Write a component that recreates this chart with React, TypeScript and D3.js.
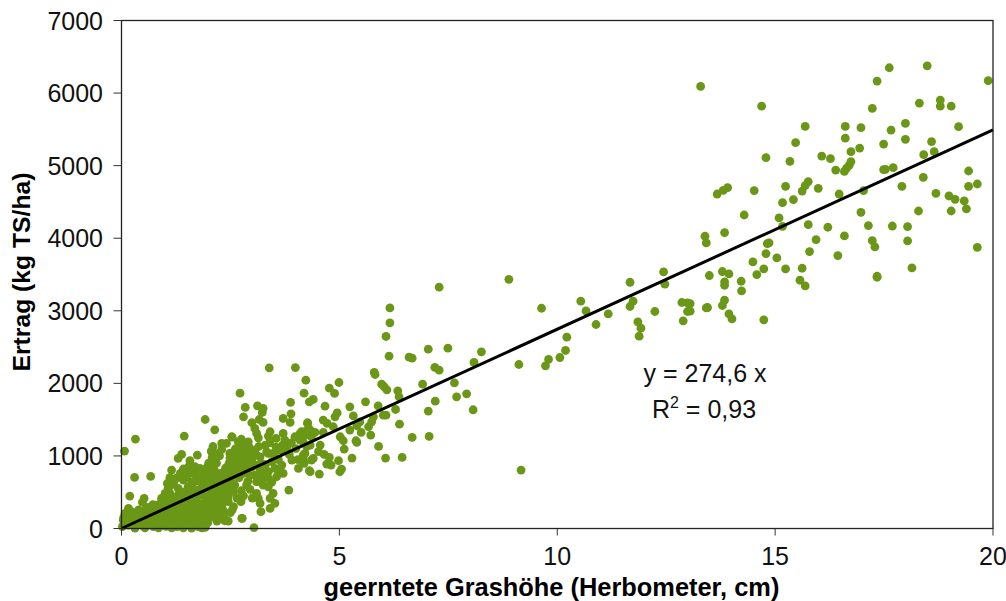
import React from "react";
import * as d3 from "d3";

const xTicks = [0, 5, 10, 15, 20];
const yTicks = [0, 1000, 2000, 3000, 4000, 5000, 6000, 7000];
const xTitle = "geerntete Grashöhe (Herbometer, cm)";
const yTitle = "Ertrag (kg TS/ha)";
const slope = 274.6;

// [Grashöhe cm, Ertrag kg TS/ha]
const highPoints: number[][] = [
  [13.29,6092],[14.69,5820],[15.69,5541],[15.47,5316],[14.79,5110],[15.34,5059],[16.07,5132],[16.27,5096],[16.61,5541],[16.61,5380],
  [16.97,5523],[16.74,5192],[16.94,5242],[16.74,5055],[16.70,5004],[16.64,4967],[16.59,4921],[16.39,4939],[17.23,5789],[17.34,6165],
  [17.62,6349],[18.49,6376],[19.89,6170],[18.31,5862],[18.79,5903],[18.79,5820],[19.04,5820],[17.99,5582],[17.66,5490],[17.99,5362],
  [19.21,5537],[17.49,5297],[18.59,5331],[18.65,5193],[18.41,5151],[17.49,4945],[17.53,4949],[17.71,4972],[19.44,4926],[18.40,4839],
  [19.44,4715],[19.64,4747],[17.91,4715],[18.69,4619],[18.99,4582],[19.13,4536],[19.34,4513],[17.03,4656],[16.47,4609],[15.99,4688],
  [15.76,4780],[15.69,4725],[15.62,4650],[15.24,4715],[14.52,4656],[13.91,4697],[13.81,4660],[13.67,4609],
  [15.09,4279],[15.17,4490],[15.42,4532],[15.17,4164],[14.29,4320],[13.39,4027],[13.42,3935],[13.84,4078],[15.76,4187],[16.21,4151],
  [16.97,4357],[17.14,4174],[17.69,4168],[18.04,4160],[18.29,4375],[19.04,4375],[19.39,4403],[16.59,4031],[15.94,3981],[17.23,3967],
  [17.29,3880],[18.04,3962],[19.64,3875],[15.79,3816],[16.44,3761],[14.86,3935],[14.82,3926],[14.79,3789],[15.04,3728],[14.49,3673],
  [14.74,3577],[14.58,3499],[15.24,3577],[15.62,3586],[15.57,3421],[15.69,3343],[17.34,3476],[17.34,3462],[18.14,3590],[13.49,3486],
  [13.79,3541],[13.94,3508],[14.22,3407],[13.84,3398],[13.84,3352],[14.23,3274],[13.84,3146],[13.79,3073],[13.45,3045],[13.42,3040],
  [13.05,3100],[13.05,2994],[13.94,2957],[14.01,2888],[14.74,2875],
];

const midPoints: number[][] = [
  [7.29,3325],[8.89,3434],[9.64,3035],[10.54,3132],[10.66,2998],[11.17,2957],[10.89,2811],[11.67,3393],[12.44,3536],[12.47,3366],
  [11.74,3132],[11.67,3059],[12.86,3114],[12.99,3109],[12.99,2990],[12.89,2861],[12.24,2990],[11.85,2847],[11.92,2760],[11.88,2650],
  [10.22,2636],[10.19,2453],[10.06,2356],[9.80,2329],[9.73,2241],[9.12,2260],[8.26,2434],[8.09,2288],[7.49,2485],[7.04,2471],
  [6.60,2361],[6.67,2347],[7.19,2219],[7.29,2182],[6.91,1989],[7.64,2007],[7.92,1856],[7.69,1815],[7.20,1755],[7.04,1618],
  [8.07,1636],[6.38,1438],[6.67,1256],[7.06,1269],[9.17,805],
  [6.16,3040],[6.16,2834],[6.07,2646],[6.14,2375],[5.80,2150],[5.82,2122],[5.97,1989],[6.03,1953],[6.09,1911],[6.34,1897],[6.37,1815],
  [4.23,2044],[4.19,1865],[4.77,1934],[4.99,2012],[4.89,1861],[4.40,1778],[4.31,1746],[4.67,1686],[5.24,1677],[5.60,1746],[5.89,1691],
  [6.29,1640],[6.01,1562],[6.07,1562],[4.95,1594],[4.90,1539],[5.32,1553],[4.63,1494],[4.72,1448],[4.27,1448],[5.78,1539],[5.74,1470],
  [5.67,1402],[5.47,1470],[5.40,1416],[5.24,1356],[4.86,1402],[4.63,1324],[4.44,1324],[4.33,1356],[4.21,1333],[4.10,1310],[5.50,1324],
  [5.72,1287],[5.02,1264],[5.09,1209],[5.38,1209],[5.40,1186],[5.11,1094],[5.90,1131],[5.29,970],[6.06,970],[6.44,980],[4.98,934],
  [4.56,1150],[4.33,1150],[4.17,1195],[4.52,1058],[4.65,1021],[4.77,980],[4.40,966],[4.17,1012],[4.14,942],[4.71,888],[4.81,874],
  [4.31,796],[4.19,897],[5.01,782],[5.05,819],[4.54,750],
];

const clusterPoints: number[][] = [
  [3.39,2214],[3.99,2218],[2.72,1865],[3.88,1737],[2.84,1668],[3.12,1691],[3.25,1654],[3.23,1599],[2.80,1539],[3.89,1580],[3.71,1516],
  [3.87,1461],[2.99,1457],[3.06,1379],[3.10,1310],[3.14,1250],[3.16,1502],[3.25,1461],[2.14,1360],[1.92,1502],[4.27,1457],[3.41,1333],
  [3.37,1273],[3.55,1241],[3.71,1310],[3.75,1218],[3.81,1149],[3.98,1264],[4.13,1333],[4.29,1379],[4.21,1287],[4.36,1264],[4.10,1218],
  [2.54,1259],[2.30,1172],[2.41,1172],[2.06,1067],[2.21,1025],[2.68,1195],[2.91,1195],[2.60,1080],[2.76,1126],[2.91,1057],[3.06,1080],
  [2.49,1034],[2.64,988],[2.80,1011],[2.95,988],[3.10,1011],[3.33,1057],[3.48,1034],[3.64,1080],[3.79,1080],
  [2.09,920],[2.76,988],[2.68,897],[2.49,966],[2.83,897],[2.99,943],[2.57,828],[3.18,988],[3.37,1034],[3.52,988],[3.68,874],[3.71,759],
  [3.56,713],[3.37,782],[3.37,690],[3.52,828],[3.91,943],[4.06,828],[4.17,966],[4.33,782],[4.21,1034],[4.36,943],[3.25,598],[3.37,575],
  [3.10,644],[3.06,736],[2.87,598],[3.25,759],[3.18,805],[3.84,530],[3.48,484],[3.41,415],[3.10,484],[3.14,415],[3.18,346],[3.20,231],
  [3.52,346],[3.41,277],[2.77,140],[2.19,103],[2.37,107],[2.45,103],[3.04,11],[2.74,369],[2.57,300],[2.57,507],[2.45,530],[2.60,598],
  [2.38,644],[2.07,759],[1.99,713],[2.15,690],[2.26,759],[2.07,621],[2.22,621],[2.30,553],[2.18,530],[2.03,530],[1.92,575],[2.03,438],
  [2.15,438],[2.26,415],[2.38,392],[1.92,438],[2.15,346],[2.30,323],[2.03,323],[1.92,323],[2.18,254],[1.99,231],[1.92,16],
  [2.02,150],[2.10,200],[2.12,500],[2.20,400],[2.22,580],[2.28,470],[2.30,660],[2.33,250],[2.35,720],[2.36,520],[2.40,840],[2.42,600],
  [2.45,440],[2.47,900],[2.50,680],[2.52,760],[2.55,1000],[2.56,620],[2.58,900],[2.62,1100],[2.65,1040],[2.66,780],[2.70,950],[2.72,1040],
  [2.74,850],[2.78,1080],[2.80,950],[2.82,1000],[2.85,1060],[2.88,840],[2.90,960],[2.93,1120],[2.97,1020],[2.85,1180],[2.75,1230],[3.00,850],
  [3.20,900],[3.30,1150],[3.45,920],[3.60,950],[3.70,1150],[3.85,1020],[4.00,1100],[4.05,950],[4.25,1130],[3.15,1130],[3.40,1180],[3.55,1120],
  [3.90,1180],[3.30,880],[3.05,880],[3.45,640],[3.60,800],[3.20,680],[2.95,730],[2.80,760],[2.70,700],[2.90,650],[2.75,520],[2.95,540],
  [3.00,420],[2.80,450],[2.65,420],[2.50,220],[2.35,180],[2.20,170],[2.30,1090],[2.10,1130],
];

const lowPoints: number[][] = [
  [0.32,1232],[0.07,1067],[1.44,1273],[0.30,704],[0.67,718],[0.19,447],[0.52,415],[0.48,360],[1.30,966],[1.38,1021],[1.74,1012],[1.57,934],
  [1.15,805],[1.11,700],[1.23,681],[1.53,782],[1.69,851],[1.80,828],[1.65,759],[1.42,668],[1.30,553],[1.53,576],[1.69,645],[1.84,622],
  [1.07,553],[1.00,484],[0.92,415],[1.11,484],[2.07,1058],[2.22,1035],[2.38,814],[2.53,1264],[2.61,989],[2.49,1035],[2.72,1150],[2.53,897],
  [0.16,278],[0.08,209],[0.23,232],[0.39,255],[0.54,255],[0.69,278],[0.81,323],[0.92,369],[1.07,415],[1.30,461],[1.46,507],[1.61,553],
  [1.76,530],[1.92,599],[2.03,668],[2.15,645],[0.02,25],[0.04,117],[0.16,140],[0.31,117],[0.46,163],[0.62,186],[0.77,209],[0.92,255],
  [1.07,300],[1.23,346],[1.38,369],[1.53,415],[1.69,461],[1.84,507],[0.16,48],[0.31,25],[0.43,71],[0.58,94],[0.73,25],[0.81,117],[0.96,48],
  [1.00,163],[1.15,117],[1.19,209],[1.34,255],[1.38,25],[1.46,117],[1.50,255],[1.61,5],[1.65,163],[1.76,25],[1.80,255],[1.88,94],[1.92,25],
  [1.95,323],[2.07,255],[2.15,369],[2.30,323],[2.45,369],[2.54,255],[2.74,379],[2.76,140],[1.69,346],[1.38,186],[1.57,94],[1.27,25],
  [1.15,10],[0.85,10],[0.54,10],[0.31,5],[1.42,10],[1.84,8],[0.92,140],[1.07,210],[1.27,240],[1.27,100],[1.10,60],[0.65,60],[0.50,110],[0.36,70],[0.08,60],
  [0.05,150],[0.12,90],[0.20,170],[0.27,60],[0.28,190],[0.35,150],[0.42,200],[0.48,40],[0.50,230],[0.56,140],[0.60,290],[0.66,110],[0.70,200],
  [0.72,330],[0.78,70],[0.84,240],[0.88,160],[0.90,300],[0.95,90],[0.98,350],[1.02,30],[1.04,260],[1.06,130],[1.10,380],[1.14,180],[1.16,280],
  [1.20,60],[1.22,420],[1.25,150],[1.28,320],[1.32,80],[1.33,400],[1.36,220],[1.40,300],[1.42,480],[1.44,140],[1.48,360],[1.50,60],[1.52,210],
  [1.55,460],[1.58,300],[1.60,150],[1.62,390],[1.64,40],[1.66,240],[1.68,520],[1.70,110],[1.72,410],[1.74,300],[1.78,180],[1.80,460],[1.82,60],
  [1.85,340],[1.86,200],[1.88,560],[1.90,130],[1.94,400],[1.96,260],[1.98,80],[1.05,620],[1.12,590],[1.20,640],[1.28,700],[1.35,760],[1.42,820],
  [1.50,700],[1.55,860],[1.62,640],[1.72,720],[1.78,660],[1.86,780],[1.90,700],[1.96,840],[2.00,900],[2.02,760],[2.08,980],[2.12,830],[2.18,900],[2.25,1000],
];

const points = [...lowPoints, ...clusterPoints, ...midPoints, ...highPoints];

const FONT = "'Liberation Sans', Arial, sans-serif";
const TEXT = "#111";
const GREEN = "#6b9717";

export default function App() {
  const x = d3.scaleLinear().domain([0, 20]).range([121.5, 993]);
  const y = d3.scaleLinear().domain([0, 7000]).range([528.5, 20.5]);
  const trend = d3.line<number>().x((d) => x(d)).y((d) => y(d * slope));
  return (
    <svg
      width={1006}
      height={601}
      style={{ position: "absolute", left: 0, top: 0, display: "block", background: "#fff" }}
      fontFamily={FONT}
    >
      {points.map(([a, b], i) => (
        <circle key={i} cx={x(a)} cy={y(b)} r={4.4} fill={GREEN} />
      ))}
      <path d={trend([0, 20]) ?? ""} fill="none" stroke="#000" strokeWidth={3} />
      <rect x={x(0)} y={y(7000)} width={x(20) - x(0)} height={y(0) - y(7000)} fill="none" stroke="#222" strokeWidth={1.3} />
      {yTicks.map((t) => (
        <g key={t}>
          <line x1={x(0) - 8} x2={x(0)} y1={y(t)} y2={y(t)} stroke="#333" strokeWidth={1} />
          <text x={103} y={y(t) + 9} textAnchor="end" fontSize={25} fill={TEXT}>{t}</text>
        </g>
      ))}
      {xTicks.map((t) => (
        <g key={t}>
          <line x1={x(t)} x2={x(t)} y1={y(0)} y2={y(0) + 7} stroke="#333" strokeWidth={1} />
          <text x={x(t)} y={565} textAnchor="middle" fontSize={25} fill={TEXT}>{t}</text>
        </g>
      ))}
      <text x={551.5} y={596} textAnchor="middle" fontSize={25.4} fontWeight="bold" fill="#000">{xTitle}</text>
      <text transform="translate(30,272) rotate(-90)" textAnchor="middle" fontSize={24.7} fontWeight="bold" fill="#000">{yTitle}</text>
      <text x={705} y={382} textAnchor="middle" fontSize={25} fill={TEXT}>y = 274,6 x</text>
      <text x={704} y={418} textAnchor="middle" fontSize={25} fill={TEXT}>
        R<tspan dy={-10} fontSize={16}>2</tspan><tspan dy={10}> = 0,93</tspan>
      </text>
    </svg>
  );
}
